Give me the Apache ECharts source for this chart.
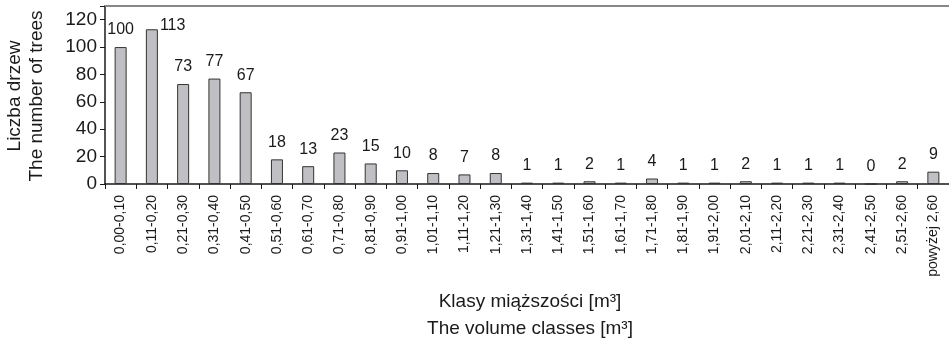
<!DOCTYPE html>
<html><head><meta charset="utf-8">
<script src="https://cdn.jsdelivr.net/npm/echarts@6/dist/echarts.min.js"></script>
<style>html,body{margin:0;padding:0;background:#fff}#c{width:949px;height:348px}</style>
</head><body><div id="c"></div>
<script>
const categories = ["0,00-0,10","0,11-0,20","0,21-0,30","0,31-0,40","0,41-0,50","0,51-0,60","0,61-0,70","0,71-0,80","0,81-0,90","0,91-1,00","1,01-1,10","1,11-1,20","1,21-1,30","1,31-1,40","1,41-1,50","1,51-1,60","1,61-1,70","1,71-1,80","1,81-1,90","1,91-2,00","2,01-2,10","2,11-2,20","2,21-2,30","2,31-2,40","2,41-2,50","2,51-2,60","powyżej 2,60"];
const treeCounts = [100,113,73,77,67,18,13,23,15,10,8,7,8,1,1,2,1,4,1,1,2,1,1,1,0,2,9];
const yTicks = [0,20,40,60,80,100,120];
const yTitle = ["Liczba drzew","The number of trees"];
const xTitle = ["Klasy miąższości [m³]","The volume classes [m³]"];

const font = "'Liberation Sans', Arial, sans-serif";
const chart = echarts.init(document.getElementById('c'), null, {renderer:'canvas'});
const data = treeCounts.map((v,i)=> i===1 ? {value:v, label:{position:[14,-12]}} : v);
chart.setOption({
  animation:false,
  grid:{left:105, top:6, width:847, height:178, containLabel:false},
  xAxis:[{
    type:'category', data:categories,
    axisLine:{lineStyle:{color:'#1a1a1a',width:1.5}},
    axisTick:{show:true, alignWithLabel:false, length:5, lineStyle:{color:'#1a1a1a'}},
    axisLabel:{rotate:90, interval:0, fontSize:14, color:'#1a1a1a', fontFamily:font, margin:11}
  },{
    type:'category', data:categories, position:'top',
    axisLine:{show:true, lineStyle:{color:'#888',width:2}},
    axisTick:{show:false}, axisLabel:{show:false}
  }],
  yAxis:{
    type:'value', min:0, max:130, interval:20,
    axisLine:{show:true, lineStyle:{color:'#1a1a1a',width:1.5}},
    axisTick:{show:true, length:5, lineStyle:{color:'#1a1a1a'}},
    splitLine:{show:false},
    axisLabel:{fontSize:19, color:'#1a1a1a', fontFamily:font, margin:8,
      formatter:v=> yTicks.includes(v)? String(v):''}
  },
  series:[{
    type:'bar', data:data, barWidth:12,
    itemStyle:{color:'#c0c0c4', borderColor:'#333', borderWidth:1},
    label:{show:true, position:'top', distance:9, fontSize:16, color:'#1a1a1a', fontFamily:font}
  }],
  graphic:[
    {type:'text', x:15, y:96, rotation:Math.PI/2, style:{text:yTitle[0], fontSize:19, fill:'#1a1a1a', fontFamily:font, align:'center', verticalAlign:'middle'}},
    {type:'text', x:37, y:96, rotation:Math.PI/2, style:{text:yTitle[1], fontSize:19, fill:'#1a1a1a', fontFamily:font, align:'center', verticalAlign:'middle'}},
    {type:'text', x:530, y:302, style:{text:xTitle[0], fontSize:19, fill:'#1a1a1a', fontFamily:font, align:'center', verticalAlign:'middle'}},
    {type:'text', x:530, y:329, style:{text:xTitle[1], fontSize:19, fill:'#1a1a1a', fontFamily:font, align:'center', verticalAlign:'middle'}}
  ]
});
</script></body></html>
